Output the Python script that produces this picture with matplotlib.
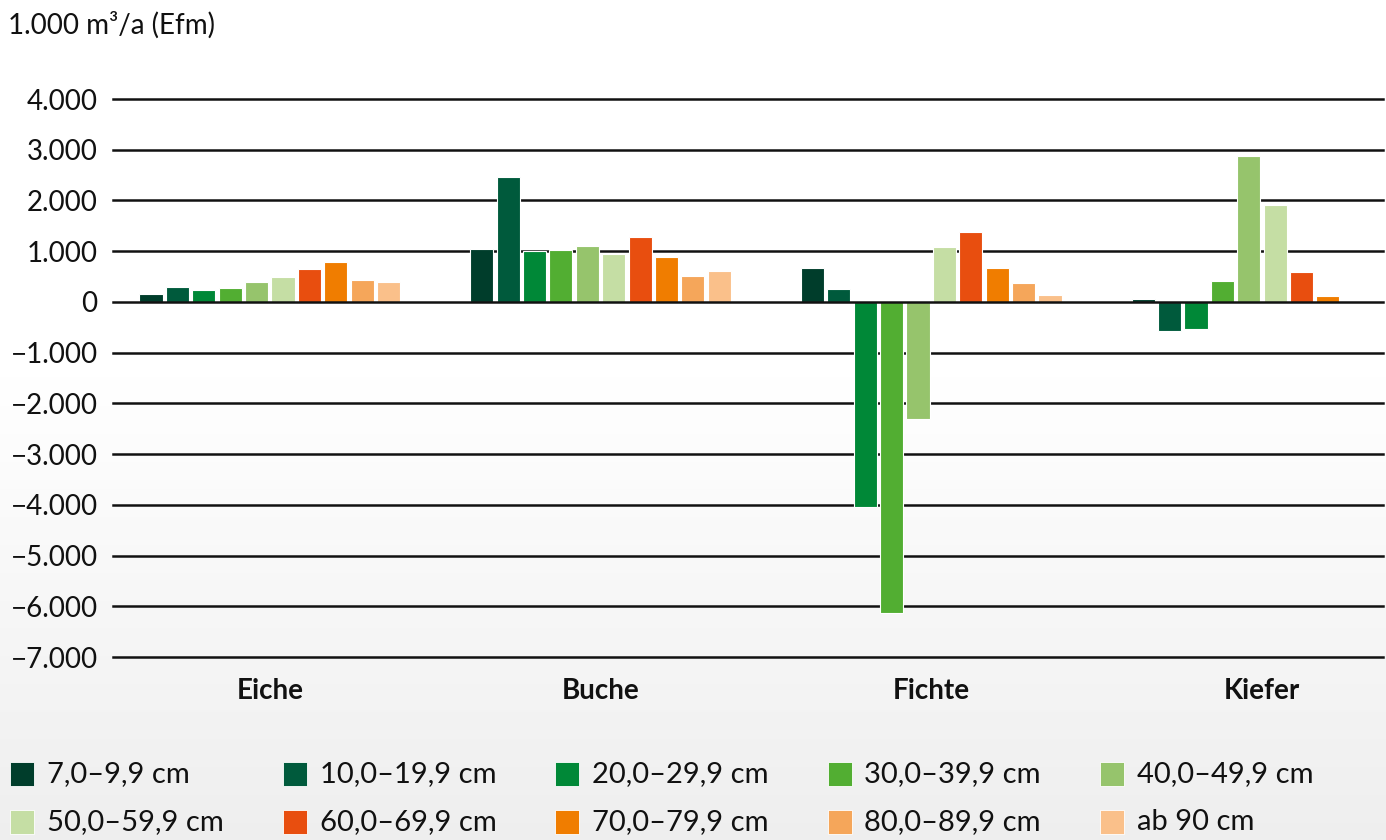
import matplotlib.pyplot as plt
import matplotlib.ticker as mticker
from matplotlib.patches import Rectangle
import numpy as np

plt.rcParams['font.family'] = ['Lato', 'DejaVu Sans']

# Baumarten und Durchmesserklassen
species = ['Eiche', 'Buche', 'Fichte', 'Kiefer']
classes = ['7,0–9,9 cm', '10,0–19,9 cm', '20,0–29,9 cm', '30,0–39,9 cm',
           '40,0–49,9 cm', '50,0–59,9 cm', '60,0–69,9 cm', '70,0–79,9 cm',
           '80,0–89,9 cm', 'ab 90 cm']
colors = ['#003d2b', '#005a3c', '#008837', '#52ae32', '#96c46c',
          '#c5dea4', '#e84e0f', '#f07d00', '#f5a65a', '#fac08a']

# Werte in 1.000 m³/a (Efm), je Baumart eine Liste über die Klassen
eiche = [150, 300, 230, 280, 390, 490, 640, 790, 430, 390]
buche = [1050, 2460, 1000, 1030, 1110, 950, 1270, 890, 520, 600]
fichte = [670, 250, -4050, -6130, -2310, 1090, 1380, 670, 370, 140]
kiefer = [60, -580, -540, 420, 2880, 1920, 580, 120, 0, 0]
values = np.array([eiche, buche, fichte, kiefer])

W, H = 1386, 840
fig = plt.figure(figsize=(W / 100, H / 100), dpi=100)

# background gradient (white -> light grey at the bottom)
bg = fig.add_axes([0, 0, 1, 1], zorder=-10)
yy = np.linspace(0, 1, 400)
grad = np.where(yy < 0.45, 1.0, 1.0 - (yy - 0.45) / 0.55 * 0.065)
bg.imshow(np.tile(grad[:, None], (1, 2))[:, :, None].repeat(3, axis=2),
          aspect='auto', extent=[0, 1, 0, 1], origin='upper')
bg.set_axis_off()

ax = fig.add_axes([113 / W, 1 - 657 / H, (1383 - 113) / W, (657 - 99) / H])
ax.set_facecolor('none')

x = np.arange(len(species))
pitch = 0.0798
bw = 0.0698
for j, lab in enumerate(classes):
    ax.bar(x + (j - 4.5) * pitch, values[:, j], width=bw, color=colors[j],
           edgecolor='white', linewidth=0.8, zorder=3, label=lab)

yt = np.arange(-7000, 4001, 1000)
for v in yt:
    ax.axhline(v, color='#111111', lw=1.8, zorder=5 if v == 0 else 1,
               clip_on=False)

ax.set_ylim(-7000, 4000)
ax.set_xlim(-0.474, 3.366)
ax.set_yticks(yt)
ax.yaxis.set_major_formatter(mticker.FuncFormatter(
    lambda v, p: f"{v:,.0f}".replace(',', '.').replace('-', '−')))
ax.set_xticks(x)
ax.set_xticklabels(species, fontweight='bold')
ax.tick_params(axis='y', length=0, pad=11, labelsize=20, colors='#111111')
ax.tick_params(axis='x', length=0, pad=15, labelsize=20, colors='#111111')
for s in ax.spines.values():
    s.set_visible(False)

fig.text(8 / W, 1 - 25 / H, '1.000 m³/a (Efm)', fontsize=20,
         color='#111111', va='center', ha='left')

# legend, 2 rows x 5 columns
for i, lab in enumerate(classes):
    col, row = i % 5, i // 5
    x0 = 10 + col * 272.5
    yc = 774 + row * 48
    fig.patches.append(Rectangle((x0 / W, 1 - (yc + 12) / H), 24 / W, 24 / H,
                                 transform=fig.transFigure, facecolor=colors[i],
                                 edgecolor='white', linewidth=0.6))
    fig.text((x0 + 37) / W, 1 - yc / H, lab, fontsize=21, color='#111111',
             va='center', ha='left')

fig.savefig('out.png', dpi=100)
